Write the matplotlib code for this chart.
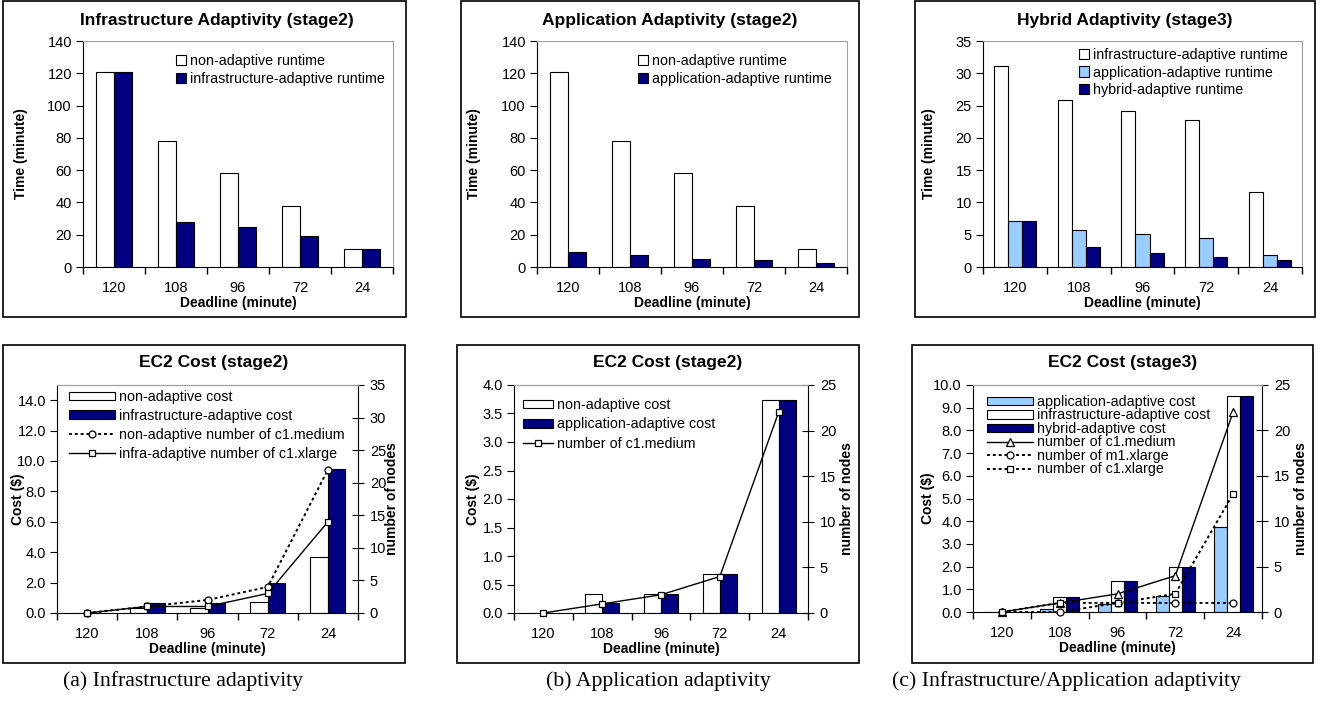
import numpy as np
import matplotlib
matplotlib.use('Agg')
import matplotlib.pyplot as plt
from matplotlib.patches import Rectangle

plt.rcParams['font.family'] = ['Liberation Sans', 'DejaVu Sans']

W, H = 1322, 711

deadlines = ['120', '108', '96', '72', '24']

# top row: runtime (minute)
nonadapt_rt = [121, 78, 58, 38, 11]
infra_rt_s2 = [121, 28, 25, 19.5, 11]
app_rt_s2 = [9.5, 7.5, 5, 4.5, 2.5]
infra_rt_s3 = [31.2, 25.8, 24.2, 22.7, 11.6]
app_rt_s3 = [7.2, 5.8, 5.1, 4.5, 1.8]
hybrid_rt_s3 = [7.2, 3.1, 2.2, 1.6, 1.1]

# bottom row: EC2 cost ($) and number of nodes
nonadapt_cost_a = [0, 0.3, 0.3, 0.72, 3.7]
infra_cost_a = [0, 0.67, 0.67, 2.0, 9.5]
nonadapt_c1med_a = [0, 1, 2, 4, 22]
infra_c1xl_a = [0, 1, 1, 3, 14]

nonadapt_cost_b = [0, 0.33, 0.33, 0.68, 3.73]
app_cost_b = [0, 0.17, 0.33, 0.68, 3.73]
c1med_b = [0, 1, 2, 4, 22]

app_cost_c = [0, 0.15, 0.35, 0.7, 3.73]
infra_cost_c = [0, 0.68, 1.35, 2.0, 9.5]
hybrid_cost_c = [0, 0.68, 1.35, 2.0, 9.5]
c1med_c = [0, 1, 2, 4, 22]
m1xl_c = [0, 0, 1, 1, 1]
c1xl_c = [0, 1, 1, 2, 13]

captions = ['(a) Infrastructure adaptivity', '(b) Application adaptivity',
            '(c) Infrastructure/Application adaptivity']

NAVY = '#000080'
LBLUE = '#99CCFF'
GRAY = '#a0a0a0'
DOT = (0, (1.5, 1.5))
TICK_FS = 10.5
LEG_FS = 10.3
LAB_FS = 10

fig = plt.figure(figsize=(W / 100, H / 100), dpi=100)


def px_axes(x0, y0, x1, y1):
    return fig.add_axes([x0 / W, 1 - y1 / H, (x1 - x0) / W, (y1 - y0) / H])


def box(x0, y0, x1, y1):
    fig.add_artist(Rectangle((x0 / W, 1 - y1 / H), (x1 - x0) / W, (y1 - y0) / H,
                             transform=fig.transFigure, fill=False, ec='black', lw=1.2))


def ftext(x, y, s, **kw):
    fig.text(x / W, 1 - y / H, s, ha='center', va='center', **kw)


def setup(ax, pxbox, ylim, yticks, fmt=None, twin=False):
    x0, y0, x1, y1 = pxbox
    ax.set_xlim(-0.5, 4.5)
    ax.set_ylim(*ylim)
    ax.set_yticks(yticks)
    if fmt:
        ax.set_yticklabels([fmt % v for v in yticks])
    ax.set_xticks(np.arange(6) - 0.5, labels=[''] * 6)
    ax.set_xticks(np.arange(5), labels=deadlines, minor=True)
    ax.tick_params(axis='x', which='major', length=5, direction='out', width=1)
    ax.tick_params(axis='x', which='minor', length=0, pad=10, labelsize=TICK_FS)
    ax.tick_params(axis='y', length=5, direction='out', labelsize=TICK_FS, pad=3)
    ax.spines['top'].set_color(GRAY)
    ax.spines['right'].set_color(GRAY)
    if twin:
        ax.spines['right'].set_visible(False)
    ax.set_xlabel('Deadline (minute)', fontsize=LAB_FS, fontweight='bold')
    ax.xaxis.set_label_coords(0.5, -29 / (y1 - y0))


def bars(ax, series, width):
    n = len(series)
    x = np.arange(len(deadlines))
    for i, (vals, c, lab) in enumerate(series):
        off = (i - (n - 1) / 2) * width
        ax.bar(x + off, vals, width, color=c, edgecolor='black', linewidth=0.8, label=lab)


def legend(ax, handles, labels, pxbox, left, top, **kw):
    x0, y0, x1, y1 = pxbox
    ax.legend(handles, labels, loc='upper left',
              bbox_to_anchor=((left - x0) / (x1 - x0), (y1 - top) / (y1 - y0)),
              frameon=False, borderpad=0, borderaxespad=0, fontsize=LEG_FS,
              numpoints=1, **kw)


# ---------- top row ----------
top_boxes = [(3, 1, 406, 317), (461, 1, 859, 317), (915, 1, 1315, 317)]
top_axes = [(83, 41, 393, 267), (537, 41, 847, 267), (983, 41, 1302, 267)]
top_titles = ['Infrastructure Adaptivity (stage2)', 'Application Adaptivity (stage2)',
              'Hybrid Adaptivity (stage3)']
top_title_x = [217, 670, 1125]
top_ylabel_x = [20, 473, 928]

top_series = [
    [(nonadapt_rt, 'white', 'non-adaptive runtime'),
     (infra_rt_s2, NAVY, 'infrastructure-adaptive runtime')],
    [(nonadapt_rt, 'white', 'non-adaptive runtime'),
     (app_rt_s2, NAVY, 'application-adaptive runtime')],
    [(infra_rt_s3, 'white', 'infrastructure-adaptive runtime'),
     (app_rt_s3, LBLUE, 'application-adaptive runtime'),
     (hybrid_rt_s3, NAVY, 'hybrid-adaptive runtime')],
]
top_ylims = [(0, 140), (0, 140), (0, 35)]
top_yticks = [np.arange(0, 141, 20), np.arange(0, 141, 20), np.arange(0, 36, 5)]
top_widths = [0.29, 0.29, 0.22]
top_leg = [(176, 54, 0.31), (638, 54, 0.31), (1079, 48, 0.245)]

for i in range(3):
    box(*top_boxes[i])
    pb = top_axes[i]
    ax = px_axes(*pb)
    bars(ax, top_series[i], top_widths[i])
    setup(ax, pb, top_ylims[i], top_yticks[i])
    ax.set_ylabel('Time (minute)', fontsize=LAB_FS, fontweight='bold')
    ax.yaxis.set_label_coords((top_ylabel_x[i] + 8 - pb[0]) / (pb[2] - pb[0]), 0.5)
    h, l = ax.get_legend_handles_labels()
    lx, ly, ls = top_leg[i]
    legend(ax, h, l, pb, lx, ly, handlelength=0.7, handleheight=0.7,
           handletextpad=0.3, labelspacing=ls)
    ftext(top_title_x[i], 20, top_titles[i], fontsize=12.5, fontweight='bold')

# ---------- bottom row ----------
bot_boxes = [(3, 345, 405, 663), (457, 345, 859, 663), (912, 345, 1313, 663)]
bot_axes = [(57, 385, 358, 613), (514, 385, 808, 613), (973, 385, 1262, 612)]
bot_title = ['EC2 Cost (stage2)', 'EC2 Cost (stage2)', 'EC2 Cost (stage3)']
bot_title_x = [214, 668, 1123]
bot_ylabel_x = [17, 472, 927]
bot_rlabel_x = [393, 848, 1302]

bot_series = [
    [(nonadapt_cost_a, 'white', 'non-adaptive cost'),
     (infra_cost_a, NAVY, 'infrastructure-adaptive cost')],
    [(nonadapt_cost_b, 'white', 'non-adaptive cost'),
     (app_cost_b, NAVY, 'application-adaptive cost')],
    [(app_cost_c, LBLUE, 'application-adaptive cost'),
     (infra_cost_c, 'white', 'infrastructure-adaptive cost'),
     (hybrid_cost_c, NAVY, 'hybrid-adaptive cost')],
]
bot_lines = [
    [(nonadapt_c1med_a, DOT, 'o', 'non-adaptive number of c1.medium'),
     (infra_c1xl_a, '-', 's', 'infra-adaptive number of c1.xlarge')],
    [(c1med_b, '-', 's', 'number of c1.medium')],
    [(c1med_c, '-', '^', 'number of c1.medium'),
     (m1xl_c, DOT, 'o', 'number of m1.xlarge'),
     (c1xl_c, DOT, 's', 'number of c1.xlarge')],
]
bot_ylims = [(0, 15), (0, 4), (0, 10)]
bot_yticks = [np.arange(0, 14.1, 2), np.arange(0, 4.01, 0.5), np.arange(0, 10.01, 1)]
bot_rlims = [(0, 35), (0, 25), (0, 25)]
bot_widths = [0.29, 0.29, 0.225]
bot_leg = [(69, 390, 3.2, 0.34), (523, 398, 2.1, 0.38), (987, 395, 3.2, -0.035)]

for i in range(3):
    box(*bot_boxes[i])
    pb = bot_axes[i]
    ax = px_axes(*pb)
    bars(ax, bot_series[i], bot_widths[i])
    setup(ax, pb, bot_ylims[i], bot_yticks[i], fmt='%.1f', twin=True)
    ax.set_ylabel('Cost ($)', fontsize=LAB_FS, fontweight='bold')
    ax.yaxis.set_label_coords((bot_ylabel_x[i] + 8 - pb[0]) / (pb[2] - pb[0]), 0.5)

    ax2 = ax.twinx()
    x = np.arange(len(deadlines))
    for vals, ls, mk, lab in bot_lines[i]:
        ax2.plot(x, vals, linestyle=ls, color='black',
                 lw=1.4 if ls != '-' else 1.0, marker=mk,
                 ms=6 if mk == '^' else 5, mfc='white', mec='black', mew=0.9,
                 label=lab, clip_on=False)
    ax2.set_ylim(*bot_rlims[i])
    ax2.set_yticks(np.arange(0, bot_rlims[i][1] + 1, 5))
    ax2.tick_params(axis='y', direction='inout', length=9, labelsize=TICK_FS, pad=4)
    ax2.spines['top'].set_color(GRAY)
    ax2.spines['left'].set_visible(False)
    ax2.spines['bottom'].set_visible(False)
    ax2.spines['right'].set_color('black')
    ax2.set_ylabel('number of nodes', fontsize=LAB_FS, fontweight='bold')
    ax2.yaxis.set_label_coords((bot_rlabel_x[i] - 8 - pb[0]) / (pb[2] - pb[0]), 0.5)

    h1, l1 = ax.get_legend_handles_labels()
    h2, l2 = ax2.get_legend_handles_labels()
    lx, ly, hl, ls = bot_leg[i]
    legend(ax2, h1 + h2, l1 + l2, pb, lx, ly, handlelength=hl, handleheight=0.55,
           handletextpad=0.3, labelspacing=ls)
    ftext(bot_title_x[i], 363, bot_title[i], fontsize=12.5, fontweight='bold')

# ---------- captions ----------
for cx, cap in zip([183, 658, 1066], captions):
    ftext(cx, 681, cap, fontsize=15.7, family=['Liberation Serif', 'DejaVu Serif'])

fig.savefig('out.png', dpi=100)
